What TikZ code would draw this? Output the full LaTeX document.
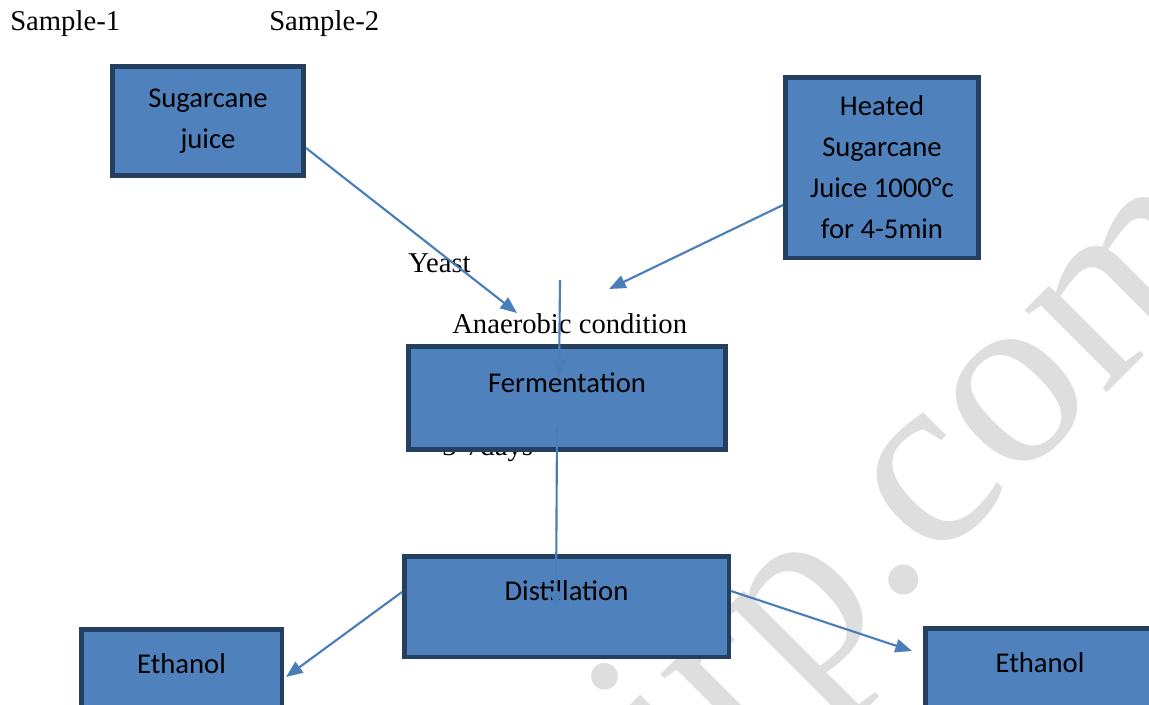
\documentclass[tikz,border=0pt]{standalone}
\usepackage{fontspec}
\setmainfont{Liberation Serif}
\newfontfamily\boxfont{Carlito}
\usetikzlibrary{arrows.meta}
\usetikzlibrary{calc}
\definecolor{boxfill}{RGB}{79,129,189}
\definecolor{boxline}{RGB}{36,63,96}
\definecolor{arrowblue}{RGB}{74,126,187}
\definecolor{markgray}{RGB}{222,222,222}
\tikzset{
  procbox/.style={draw=boxline, fill=boxfill, line width=3.4pt, inner sep=0pt, align=center,
    font=\boxfont\fontsize{21.5}{30.75}\selectfont},
  onelinebox/.style={procbox, text height=15pt, text depth=23.7pt},
  flowarrow/.style={draw=arrowblue, line width=1.6pt, -{Triangle[length=12.5pt,width=10pt]}},
  plaintext/.style={anchor=base west, inner sep=0pt, font=\fontsize{21.5}{25}\selectfont}
}

\begin{document}
\begin{tikzpicture}[x=0.75pt,y=0.75pt,yscale=-1,xscale=1]
	\useasboundingbox (0,0) rectangle (1149,704);

	% Watermark
	\node [rotate=45, anchor=base west, inner sep=0pt, text=markgray, font=\fontsize{190}{190}\selectfont] (mark) at (690,810) {irp.com};

	% Text Node
	\node [plaintext] (sample1) at (10,30) {Sample-1};
	% Text Node
	\node [plaintext] (sample2) at (269,30) {Sample-2};
	% Text Node
	\node [plaintext] (yeast) at (408,272) {Yeast};
	% Text Node
	\node [plaintext] (anaerobic) at (452,333) {Anaerobic condition};
	% Text Node
	\node [plaintext] (days) at (442,455) {3-7days};

	%Shape: Rectangle [juice]
	\node [procbox, minimum width=143.6pt, minimum height=82.1pt] (juice) at (208,121) {Sugarcane\\juice};
	%Shape: Rectangle [heated]
	\node [procbox, minimum width=145.1pt, minimum height=135.4pt] (heated) at (882,167.5) {Heated\\Sugarcane\\Juice 1000°c\\for 4-5min};
	%Shape: Rectangle [fermentation]
	\node [onelinebox, minimum width=238.1pt, minimum height=77.6pt] (ferm) at (567,398) {Fermentation};
	%Shape: Rectangle [distillation]
	\node [onelinebox, minimum width=243.4pt, minimum height=75.4pt] (dist) at (566.5,606.5) {Distillation};
	%Shape: Rectangle [ethanol left]
	\node [onelinebox, minimum width=150.4pt, minimum height=75.4pt] (ethleft) at (181.5,679.5) {Ethanol};
	%Shape: Rectangle [ethanol right]
	\node [onelinebox, minimum width=172.1pt, minimum height=75.4pt] (ethright) at (1040,678.5) {Ethanol};

	% free ends
	\coordinate (juicetip) at (517,313);
	\coordinate (heatedtip) at (609,289);
	\coordinate (yeasttop) at (560,280);
	\coordinate (yeasttip) at (559,377);
	\coordinate (fermtop) at (557,427);
	\coordinate (fermtip) at (556,608);

	%Straight Lines
	\draw [flowarrow] ($(juice.east)+(0,27)$) -- (juicetip);
	\draw [flowarrow] ($(heated.west)+(0,37.5)$) -- (heatedtip);
	\draw [flowarrow] (yeasttop) -- (yeasttip);
	\draw [flowarrow] (fermtop) -- (fermtip);
	\draw [flowarrow] ($(dist.west)+(0,-14.5)$) -- ($(ethleft.east)+(2,-2.5)$);
	\draw [flowarrow] ($(dist.east)+(0,-15.5)$) -- ($(ethright.west)+(-11,-27.5)$);

\end{tikzpicture}
\end{document}
